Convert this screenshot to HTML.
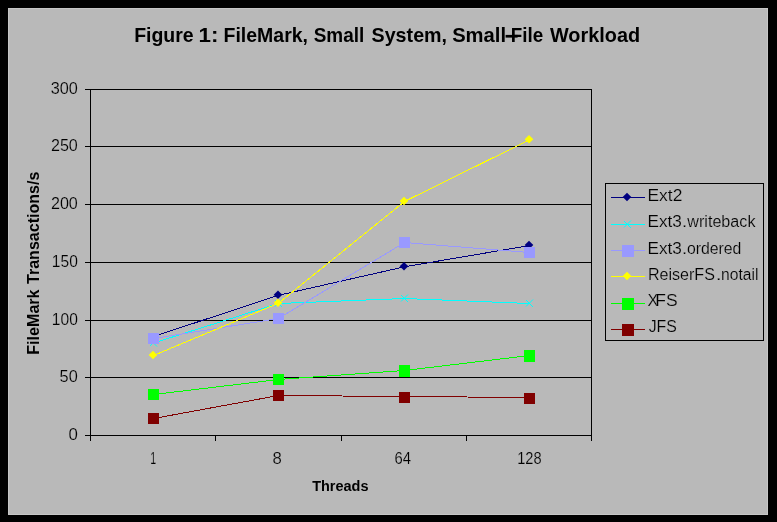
<!DOCTYPE html>
<html><head><meta charset="utf-8"><title>Figure 1</title>
<style>
html,body{margin:0;padding:0;background:#000;}
body{width:777px;height:522px;overflow:hidden;}
svg{display:block;will-change:transform;}
text{font-family:"Liberation Sans",sans-serif;fill:#000;}
</style></head><body>
<svg width="777" height="522" viewBox="0 0 777 522">
<rect x="0" y="0" width="777" height="522" fill="#000"/>
<rect x="8" y="8" width="760" height="507" fill="#b9b9b9"/>
<rect x="8.5" y="8.5" width="759" height="506" fill="none" stroke="#c6c6c6" stroke-width="1" shape-rendering="crispEdges"/>
<text x="134.16" y="41.8" font-size="20.5" font-weight="bold" textLength="59.53" lengthAdjust="spacingAndGlyphs">Figure</text>
<text x="198.44" y="41.8" font-size="20.5" font-weight="bold" textLength="19.90" lengthAdjust="spacingAndGlyphs">1:</text>
<text x="223.56" y="41.8" font-size="20.5" font-weight="bold" textLength="84.45" lengthAdjust="spacingAndGlyphs">FileMark,</text>
<text x="313.69" y="41.8" font-size="20.5" font-weight="bold" textLength="50.55" lengthAdjust="spacingAndGlyphs">Small</text>
<text x="371.56" y="41.8" font-size="20.5" font-weight="bold" textLength="75.51" lengthAdjust="spacingAndGlyphs">System,</text>
<text x="452.14" y="41.8" font-size="20.5" font-weight="bold" textLength="53.88" lengthAdjust="spacingAndGlyphs">Small</text>
<text x="510.79" y="41.8" font-size="20.5" font-weight="bold" textLength="32.47" lengthAdjust="spacingAndGlyphs">File</text>
<text x="549.96" y="41.8" font-size="20.5" font-weight="bold" textLength="90.11" lengthAdjust="spacingAndGlyphs">Workload</text>
<rect x="505.6" y="34.9" width="12" height="2.7" fill="#000"/>
<g stroke="#000" stroke-width="1" shape-rendering="crispEdges" fill="none">
<line x1="85" y1="89.5" x2="592" y2="89.5"/>
<line x1="85" y1="146.5" x2="592" y2="146.5"/>
<line x1="85" y1="204.5" x2="592" y2="204.5"/>
<line x1="85" y1="262.5" x2="592" y2="262.5"/>
<line x1="85" y1="320.5" x2="592" y2="320.5"/>
<line x1="85" y1="377.5" x2="592" y2="377.5"/>
<line x1="85" y1="435.5" x2="592" y2="435.5"/>
<line x1="90.5" y1="89" x2="90.5" y2="436"/>
<line x1="591.5" y1="89" x2="591.5" y2="436"/>
<line x1="90.5" y1="435" x2="90.5" y2="441"/>
<line x1="215.5" y1="435" x2="215.5" y2="441"/>
<line x1="341.5" y1="435" x2="341.5" y2="441"/>
<line x1="466.5" y1="435" x2="466.5" y2="441"/>
<line x1="591.5" y1="435" x2="591.5" y2="441"/>
</g>
<text x="50.72" y="94.1" font-size="16" stroke="#b9b9b9" stroke-width="0.2" textLength="27.12" lengthAdjust="spacingAndGlyphs">300</text>
<text x="50.93" y="151.1" font-size="16" stroke="#b9b9b9" stroke-width="0.2" textLength="26.91" lengthAdjust="spacingAndGlyphs">250</text>
<text x="50.93" y="209.1" font-size="16" stroke="#b9b9b9" stroke-width="0.2" textLength="26.91" lengthAdjust="spacingAndGlyphs">200</text>
<text x="51.85" y="267.1" font-size="16" stroke="#b9b9b9" stroke-width="0.2" textLength="25.96" lengthAdjust="spacingAndGlyphs">150</text>
<text x="51.85" y="325.1" font-size="16" stroke="#b9b9b9" stroke-width="0.2" textLength="25.96" lengthAdjust="spacingAndGlyphs">100</text>
<text x="59.63" y="382.1" font-size="16" stroke="#b9b9b9" stroke-width="0.2" textLength="18.12" lengthAdjust="spacingAndGlyphs">50</text>
<text x="68.50" y="440.1" font-size="16" stroke="#b9b9b9" stroke-width="0.2" textLength="9.37" lengthAdjust="spacingAndGlyphs">0</text>
<text x="150.25" y="464.0" font-size="16" stroke="#b9b9b9" stroke-width="0.2" textLength="5.88" lengthAdjust="spacingAndGlyphs">1</text>
<text x="272.63" y="464.0" font-size="16" stroke="#b9b9b9" stroke-width="0.2" textLength="9.31" lengthAdjust="spacingAndGlyphs">8</text>
<text x="394.57" y="464.0" font-size="16" stroke="#b9b9b9" stroke-width="0.2" textLength="16.50" lengthAdjust="spacingAndGlyphs">64</text>
<text x="517.13" y="464.0" font-size="16" stroke="#b9b9b9" stroke-width="0.2" textLength="24.39" lengthAdjust="spacingAndGlyphs">128</text>
<text x="312.16" y="490.5" font-size="14.5" font-weight="bold" textLength="56.30" lengthAdjust="spacingAndGlyphs">Threads</text>
<g transform="translate(39,354.5) rotate(-90)">
<text x="-0.22" y="0" font-size="16" font-weight="bold" textLength="65.25" lengthAdjust="spacingAndGlyphs">FileMark</text>
<text x="70.54" y="0" font-size="16" font-weight="bold" textLength="112.28" lengthAdjust="spacingAndGlyphs">Transactions/s</text>
</g>
<polyline points="153.5,336.5 278.5,295.3 404.5,266.8 529.5,245.5" fill="none" stroke="#000080" stroke-width="1" shape-rendering="crispEdges"/>
<polygon points="273.7,294.8 278.0,290.5 282.3,294.8 278.0,299.1" fill="#000080"/>
<polygon points="399.7,266.3 404.0,262.0 408.3,266.3 404.0,270.6" fill="#000080"/>
<polygon points="524.7,245.0 529.0,240.7 533.3,245.0 529.0,249.3" fill="#000080"/>
<polyline points="153.5,343 278.5,303.5 404.5,298.5 529.5,303.5" fill="none" stroke="#00ffff" stroke-width="1" shape-rendering="crispEdges"/>
<path d="M150.0,339.5L157.0,346.5M150.0,346.0L157.0,339.0" stroke="#00ffff" stroke-width="1" fill="none"/>
<path d="M275.0,300.0L282.0,307.0M275.0,306.5L282.0,299.5" stroke="#00ffff" stroke-width="1" fill="none"/>
<path d="M401.0,295.0L408.0,302.0M401.0,301.5L408.0,294.5" stroke="#00ffff" stroke-width="1" fill="none"/>
<path d="M526.0,300.0L533.0,307.0M526.0,306.5L533.0,299.5" stroke="#00ffff" stroke-width="1" fill="none"/>
<polyline points="153.5,338.5 278.5,318.5 404.5,242.5 529.5,252.5" fill="none" stroke="#9999ff" stroke-width="1" shape-rendering="crispEdges"/>
<rect x="148.0" y="333" width="11" height="11" fill="#9999ff" shape-rendering="crispEdges"/>
<rect x="273.0" y="313" width="11" height="11" fill="#9999ff" shape-rendering="crispEdges"/>
<rect x="399.0" y="237" width="11" height="11" fill="#9999ff" shape-rendering="crispEdges"/>
<rect x="524.0" y="247" width="11" height="11" fill="#9999ff" shape-rendering="crispEdges"/>
<polyline points="153.5,355.5 278.5,303.2 404.5,201.5 529.5,139.8" fill="none" stroke="#ffff00" stroke-width="1" shape-rendering="crispEdges"/>
<polygon points="148.7,355.0 153.0,350.7 157.3,355.0 153.0,359.3" fill="#ffff00"/>
<polygon points="273.7,302.7 278.0,298.4 282.3,302.7 278.0,307.0" fill="#ffff00"/>
<polygon points="399.7,201.0 404.0,196.7 408.3,201.0 404.0,205.3" fill="#ffff00"/>
<polygon points="524.7,139.3 529.0,135.0 533.3,139.3 529.0,143.60000000000002" fill="#ffff00"/>
<polyline points="153.5,394.5 278.5,379.5 404.5,370.5 529.5,355.5" fill="none" stroke="#00ff00" stroke-width="1" shape-rendering="crispEdges"/>
<rect x="148.0" y="389" width="11" height="11" fill="#00ff00" shape-rendering="crispEdges"/>
<rect x="273.0" y="374" width="11" height="11" fill="#00ff00" shape-rendering="crispEdges"/>
<rect x="399.0" y="365" width="11" height="12" fill="#00ff00" shape-rendering="crispEdges"/>
<rect x="524.0" y="350" width="11" height="12" fill="#00ff00" shape-rendering="crispEdges"/>
<polyline points="153.5,418.5 278.5,395.5 404.5,396.5 529.5,397.5" fill="none" stroke="#800000" stroke-width="1" shape-rendering="crispEdges"/>
<rect x="148.0" y="413" width="11" height="11" fill="#800000" shape-rendering="crispEdges"/>
<rect x="273.0" y="390" width="11" height="11" fill="#800000" shape-rendering="crispEdges"/>
<rect x="399.0" y="392" width="11" height="11" fill="#800000" shape-rendering="crispEdges"/>
<rect x="524.0" y="393" width="11" height="11" fill="#800000" shape-rendering="crispEdges"/>
<rect x="605.5" y="183.5" width="158" height="157" fill="none" stroke="#000" stroke-width="1" shape-rendering="crispEdges"/>
<line x1="611" y1="197.5" x2="645" y2="197.5" stroke="#000080" stroke-width="1" shape-rendering="crispEdges"/>
<polygon points="622.7,197.0 627.0,192.7 631.3,197.0 627.0,201.3" fill="#000080"/>
<text x="647.53" y="201.0" font-size="16" stroke="#b9b9b9" stroke-width="0.2" textLength="34.81" lengthAdjust="spacingAndGlyphs">Ext2</text>
<line x1="611" y1="224.5" x2="645" y2="224.5" stroke="#00ffff" stroke-width="1" shape-rendering="crispEdges"/>
<path d="M624.0,221.0L631.0,228.0M624.0,227.5L631.0,220.5" stroke="#00ffff" stroke-width="1" fill="none"/>
<text x="647.54" y="227.0" font-size="16" stroke="#b9b9b9" stroke-width="0.2" textLength="34.33" lengthAdjust="spacingAndGlyphs">Ext3</text>
<text x="682.08" y="227.0" font-size="16" stroke="#b9b9b9" stroke-width="0.2" textLength="5.10" lengthAdjust="spacingAndGlyphs">.</text>
<text x="687.27" y="227.0" font-size="16" stroke="#b9b9b9" stroke-width="0.2" textLength="68.20" lengthAdjust="spacingAndGlyphs">writeback</text>
<line x1="611" y1="250.5" x2="645" y2="250.5" stroke="#9999ff" stroke-width="1" shape-rendering="crispEdges"/>
<rect x="622" y="245.0" width="12" height="12" fill="#9999ff" shape-rendering="crispEdges"/>
<text x="647.54" y="254.0" font-size="16" stroke="#b9b9b9" stroke-width="0.2" textLength="34.33" lengthAdjust="spacingAndGlyphs">Ext3</text>
<text x="682.08" y="254.0" font-size="16" stroke="#b9b9b9" stroke-width="0.2" textLength="5.10" lengthAdjust="spacingAndGlyphs">.</text>
<text x="686.91" y="254.0" font-size="16" stroke="#b9b9b9" stroke-width="0.2" textLength="54.48" lengthAdjust="spacingAndGlyphs">ordered</text>
<line x1="611" y1="276.5" x2="645" y2="276.5" stroke="#ffff00" stroke-width="1" shape-rendering="crispEdges"/>
<polygon points="622.7,276.0 627.0,271.7 631.3,276.0 627.0,280.3" fill="#ffff00"/>
<text x="647.91" y="280.0" font-size="16" stroke="#b9b9b9" stroke-width="0.2" textLength="66.94" lengthAdjust="spacingAndGlyphs">ReiserFS</text>
<text x="715.81" y="280.0" font-size="16" stroke="#b9b9b9" stroke-width="0.2" textLength="5.91" lengthAdjust="spacingAndGlyphs">.</text>
<text x="721.11" y="280.0" font-size="16" stroke="#b9b9b9" stroke-width="0.2" textLength="37.28" lengthAdjust="spacingAndGlyphs">notail</text>
<line x1="611" y1="303.5" x2="645" y2="303.5" stroke="#00ff00" stroke-width="1" shape-rendering="crispEdges"/>
<rect x="622" y="298.0" width="12" height="12" fill="#00ff00" shape-rendering="crispEdges"/>
<text x="647.61" y="306.0" font-size="16" stroke="#b9b9b9" stroke-width="0.2" textLength="10.76" lengthAdjust="spacingAndGlyphs">X</text>
<text x="655.33" y="306.0" font-size="16" stroke="#b9b9b9" stroke-width="0.2" textLength="22.33" lengthAdjust="spacingAndGlyphs">FS</text>
<line x1="611" y1="329.5" x2="645" y2="329.5" stroke="#800000" stroke-width="1" shape-rendering="crispEdges"/>
<rect x="622" y="324.0" width="12" height="12" fill="#800000" shape-rendering="crispEdges"/>
<text x="648.66" y="332.0" font-size="16" stroke="#b9b9b9" stroke-width="0.2" textLength="28.15" lengthAdjust="spacingAndGlyphs">JFS</text>
</svg></body></html>
